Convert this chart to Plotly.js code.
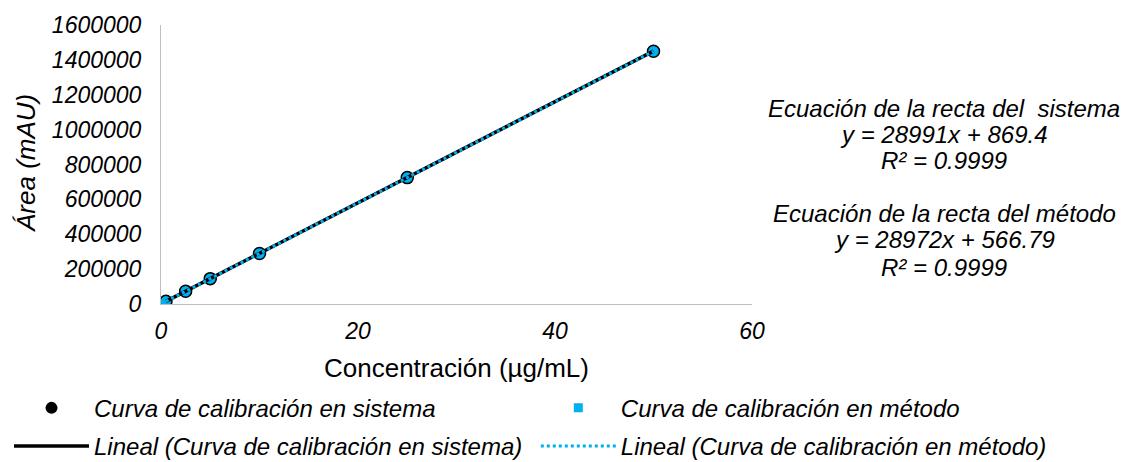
<!DOCTYPE html>
<html>
<head>
<meta charset="utf-8">
<script src="https://cdn.plot.ly/plotly-3.0.1.min.js"></script>
<style>html,body{margin:0;padding:0;background:#fff}#chart{width:1128px;height:462px}</style>
</head>
<body>
<div id="chart"></div>
<script>
// Concentrations (µg/mL)
const concentrations = [0.5, 2.5, 5, 10, 25, 50];
// Peak areas (mAU) - system calibration
const areaSistema = [15200, 73500, 146100, 290300, 725900, 1450200];
// Peak areas (mAU) - method calibration
const areaMetodo = [15100, 73000, 145500, 290000, 724800, 1449000];
// Fitted lines
const slopeSistema = 28991, interceptSistema = 869.4;
const slopeMetodo = 28972, interceptMetodo = 566.79;
const lineX = [0.5, 50];
const fitSistema = lineX.map(x => slopeSistema * x + interceptSistema);
const fitMetodo = lineX.map(x => slopeMetodo * x + interceptMetodo);
const yTicks = [0, 200000, 400000, 600000, 800000, 1000000, 1200000, 1400000, 1600000];
const xTicks = [0, 20, 40, 60];
const xTitle = "Concentración (µg/mL)";
const yTitle = "Área (mAU)";
const annotationLines = [
  "Ecuación de la recta del  sistema",
  "y = 28991x + 869.4",
  "R² = 0.9999",
  "Ecuación de la recta del método",
  "y = 28972x + 566.79",
  "R² = 0.9999"
];

const FONT = "Liberation Sans, Arial, sans-serif";
const BLUE = "#00b0f0";

const traces = [
  {x: concentrations, y: areaSistema, type: "scatter", mode: "markers",
   name: "<i>Curva de calibración en sistema</i>", legend: "legend", legendgroup: "a",
   marker: {symbol: "circle", size: 12, color: "#000"}},
  {x: concentrations, y: areaMetodo, type: "scatter", mode: "markers",
   name: "<i>Curva de calibración en método</i>", showlegend: false,
   marker: {symbol: "circle", size: 12, color: BLUE, line: {color: "#000", width: 1.5}}},
  // legend proxy (square symbol as in the reference legend)
  {x: [null], y: [null], type: "scatter", mode: "markers",
   name: "<i>Curva de calibración en método</i>", legend: "legend2", legendgroup: "c",
   marker: {symbol: "square", size: 9, color: BLUE}},
  {x: lineX, y: fitSistema, type: "scatter", mode: "lines",
   name: "<i>Lineal (Curva de calibración en sistema)</i>", legend: "legend", legendgroup: "b",
   line: {color: "#000", width: 3.5}},
  {x: lineX, y: fitMetodo, type: "scatter", mode: "lines",
   name: "<i>Lineal (Curva de calibración en método)</i>", legend: "legend2", legendgroup: "d",
   line: {color: BLUE, width: 3, dash: "dot"}}
];

// pixel helpers for placing free text relative to the plot area
const PL = 161, PR = 752, PT = 25, PB = 304;
const px2x = p => (p - PL) / (PR - PL);
const px2y = p => 1 - (p - PT) / (PB - PT);

const eqY = [108, 134, 160, 213, 240, 267];
const annotations = annotationLines.map((s, i) => ({
  xref: "paper", yref: "paper",
  x: px2x(944), y: px2y(eqY[i]),
  xanchor: "center", yanchor: "middle",
  text: "<i>" + s + "</i>", showarrow: false,
  font: {size: 24, color: "#000"}
}));
annotations.push({
  xref: "paper", yref: "paper", x: px2x(456), y: px2y(368),
  xanchor: "center", yanchor: "middle", showarrow: false,
  text: xTitle, font: {size: 26, color: "#000"}
});
annotations.push({
  xref: "paper", yref: "paper", x: px2x(26), y: px2y(164),
  xanchor: "center", yanchor: "middle", showarrow: false, textangle: -90,
  text: "<i>" + yTitle + "</i>", font: {size: 26, color: "#000"}
});

const legendCommon = {
  orientation: "v", xanchor: "left", y: 0.165, yanchor: "top",
  xref: "container", yref: "container", itemwidth: 75,
  traceorder: "grouped", tracegroupgap: 4,
  font: {size: 24, color: "#000"}, bgcolor: "rgba(0,0,0,0)"
};

const layout = {
  width: 1128, height: 462,
  margin: {l: PL, r: 1128 - PR, t: PT, b: 462 - PB, autoexpand: false},
  paper_bgcolor: "#fff", plot_bgcolor: "#fff",
  font: {family: FONT, size: 20, color: "#000"},
  showlegend: true,
  xaxis: {
    range: [0, 60], tickvals: xTicks, ticktext: xTicks.map(v => "<i>" + v + "</i>"),
    showgrid: false, zeroline: false, showline: true, linecolor: "#bfbfbf", linewidth: 1,
    ticks: "", tickfont: {size: 23, color: "#000"}, ticklabelstandoff: 6
  },
  yaxis: {
    range: [0, 1600000], tickvals: yTicks, ticktext: yTicks.map(v => "<i>" + v + "</i>"),
    showgrid: false, zeroline: false, showline: true, linecolor: "#bfbfbf", linewidth: 1,
    ticks: "", tickfont: {size: 23, color: "#000"}, ticklabelstandoff: 14
  },
  legend: Object.assign({}, legendCommon, {x: 0.008}),
  legend2: Object.assign({}, legendCommon, {x: 0.475}),
  annotations: annotations
};

Plotly.newPlot("chart", traces, layout, {displayModeBar: false, staticPlot: true});
</script>
</body>
</html>
